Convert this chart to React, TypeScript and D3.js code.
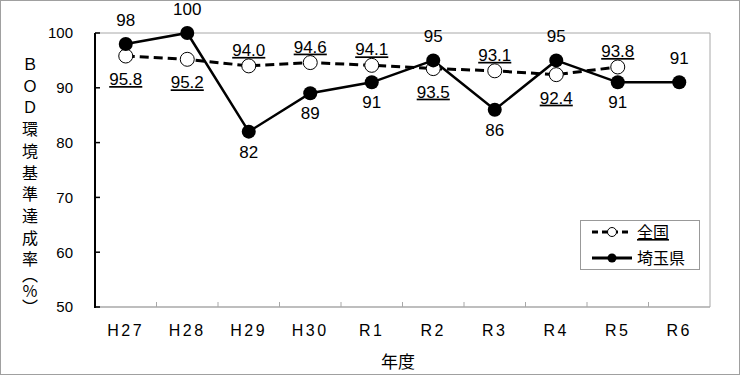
import React from "react";
import * as d3 from "d3";

const years = ["H27", "H28", "H29", "H30", "R1", "R2", "R3", "R4", "R5", "R6"];
const zenkoku = [95.8, 95.2, 94.0, 94.6, 94.1, 93.5, 93.1, 92.4, 93.8, null];
const saitama = [98, 100, 82, 89, 91, 95, 86, 95, 91, 91];
// label above (-1) or below (+1) the point
const zenkokuPos = [1, 1, -1, -1, -1, 1, -1, 1, -1, 0];
const saitamaPos = [-1, -1, 1, 1, 1, -1, 1, -1, 1, -1];
const yTicks = [50, 60, 70, 80, 90, 100];
const yTitleMain = "ＢＯＤ環境基準達成";
const yTitleTail = "率（％）";

const W = 740;
const H = 375;
const m = { left: 95, right: 30, top: 33, bottom: 68 };
const font = "'Liberation Sans', Arial, 'Noto Sans CJK JP', sans-serif";
const jfont = "'Noto Sans CJK JP', 'Liberation Sans', sans-serif";

export default function App() {
  const x = d3.scaleBand<string>().domain(years).range([m.left, W - m.right]);
  const y = d3.scaleLinear().domain([50, 100]).range([H - m.bottom, m.top]);
  const cx = (d: string) => (x(d) as number) + x.bandwidth() / 2;

  const zPts = years
    .map((d, i) => ({ d, v: zenkoku[i], p: zenkokuPos[i] }))
    .filter((o) => o.v != null) as { d: string; v: number; p: number }[];
  const sPts = years.map((d, i) => ({ d, v: saitama[i], p: saitamaPos[i] }));

  const line = d3
    .line<{ d: string; v: number }>()
    .x((o) => cx(o.d))
    .y((o) => y(o.v));

  const x0 = m.left;
  const x1 = W - m.right;
  const y0 = H - m.bottom;
  const y1 = m.top;

  return (
    <div>
      <style>{`body{margin:0}`}</style>
      <svg width={W} height={H} style={{ display: "block", background: "#fff" }}>
        <rect x={0.5} y={0.5} width={W - 1} height={H - 1} fill="#fff" stroke="#a0a0a0" />

        {/* frame */}
        <line x1={x0} x2={x1} y1={y1} y2={y1} stroke="#a8a8a8" />
        <line x1={x1} x2={x1} y1={y1} y2={y0} stroke="#a8a8a8" />
        <line x1={x0} x2={x1} y1={y0} y2={y0} stroke="#a8a8a8" strokeWidth={1.5} />
        {years.slice(1).map((d) => (
          <line key={d} x1={x(d) as number} x2={x(d) as number}
            y1={y0} y2={y0 - 5} stroke="#a8a8a8" />
        ))}
        <line x1={x0} x2={x0} y1={y1} y2={y0 + 1} stroke="#000" strokeWidth={2} />

        {/* y ticks */}
        {yTicks.map((t) => (
          <g key={t}>
            <line x1={x0} x2={x0 + 5} y1={y(t)} y2={y(t)} stroke="#000" strokeWidth={1.5} />
            <text x={73} y={y(t)} dy="0.36em" textAnchor="end" fontSize={15} fontFamily={font}>{t}</text>
          </g>
        ))}

        {/* x labels */}
        {years.map((d) => (
          <text key={d} x={cx(d)} y={336} textAnchor="middle" fontSize={16} letterSpacing={2.5}
            fontFamily={font}>{d}</text>
        ))}
        <text x={398} y={368} textAnchor="middle" fontSize={17} fontFamily={jfont}>年度</text>

        <text x={30} y={56} fontSize={16} fontFamily={jfont}
          style={{ writingMode: "vertical-rl" } as any}>
          <tspan letterSpacing={5.7}>{yTitleMain}</tspan>
          <tspan letterSpacing={0}>{yTitleTail}</tspan>
        </text>

        {/* 全国 */}
        <path d={line(zPts) || ""} fill="none" stroke="#000" strokeWidth={3} strokeDasharray="9 5" />
        {/* 埼玉県 */}
        <path d={line(sPts) || ""} fill="none" stroke="#000" strokeWidth={2.5} />

        {zPts.map((o) => (
          <circle key={o.d} cx={cx(o.d)} cy={y(o.v)} r={7} fill="#fff" stroke="#000" strokeWidth={1} />
        ))}
        {sPts.map((o) => (
          <circle key={o.d} cx={cx(o.d)} cy={y(o.v)} r={7} fill="#000" />
        ))}

        {zPts.map((o) => (
          <text key={o.d} x={cx(o.d)} y={y(o.v) + (o.p > 0 ? 29 : -10)} textAnchor="middle" fontSize={17}
            fontFamily={font} textDecoration="underline">{o.v.toFixed(1)}</text>
        ))}
        {sPts.map((o) => (
          <text key={o.d} x={cx(o.d)} y={y(o.v) + (o.p > 0 ? 26 : -18)} textAnchor="middle" fontSize={17}
            fontFamily={font}>{o.v}</text>
        ))}

        {/* legend */}
        <g>
          <rect x={580.5} y={220.5} width={119} height={49} fill="#fff" stroke="#999" />
          <line x1={592} x2={632} y1={232} y2={232} stroke="#000" strokeWidth={3} strokeDasharray="6 4" />
          <circle cx={612} cy={232} r={4.5} fill="#fff" stroke="#000" />
          <text x={637} y={238} fontSize={16} fontFamily={jfont} textDecoration="underline">全国</text>
          <line x1={592} x2={632} y1={258} y2={258} stroke="#000" strokeWidth={3} />
          <circle cx={612} cy={258} r={4.5} fill="#000" />
          <text x={637} y={264} fontSize={16} fontFamily={jfont}>埼玉県</text>
        </g>
      </svg>
    </div>
  );
}
